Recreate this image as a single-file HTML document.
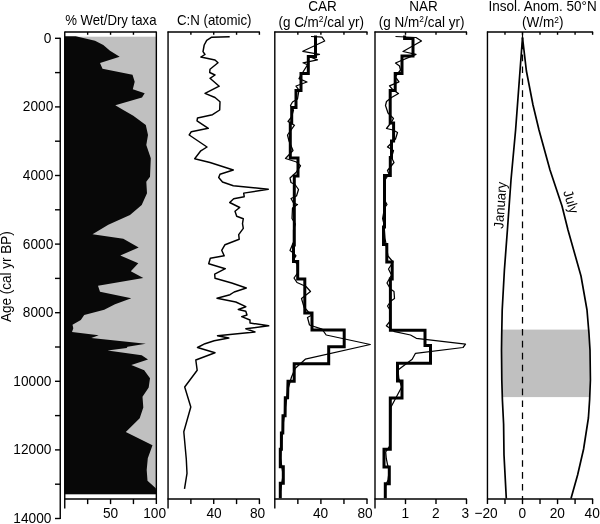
<!DOCTYPE html>
<html><head><meta charset="utf-8"><title>Figure</title>
<style>html,body{margin:0;padding:0;background:#fff}svg{display:block}text{font-family:"Liberation Sans",sans-serif;font-size:13.5px;fill:#000}text.t{font-size:13.7px}tspan.s{font-size:8.4px}</style></head>
<body>
<svg width="600" height="524" viewBox="0 0 600 524">
<rect width="600" height="524" fill="#fff"/>
<line x1="60.25" y1="37.80" x2="60.25" y2="519.00" stroke="#000" stroke-width="1.40"/>
<line x1="55.00" y1="38.30" x2="60.25" y2="38.30" stroke="#000" stroke-width="1.40"/>
<line x1="55.00" y1="72.60" x2="60.25" y2="72.60" stroke="#000" stroke-width="1.40"/>
<line x1="55.00" y1="106.90" x2="60.25" y2="106.90" stroke="#000" stroke-width="1.40"/>
<line x1="55.00" y1="141.20" x2="60.25" y2="141.20" stroke="#000" stroke-width="1.40"/>
<line x1="55.00" y1="175.50" x2="60.25" y2="175.50" stroke="#000" stroke-width="1.40"/>
<line x1="55.00" y1="209.80" x2="60.25" y2="209.80" stroke="#000" stroke-width="1.40"/>
<line x1="55.00" y1="244.10" x2="60.25" y2="244.10" stroke="#000" stroke-width="1.40"/>
<line x1="55.00" y1="278.40" x2="60.25" y2="278.40" stroke="#000" stroke-width="1.40"/>
<line x1="55.00" y1="312.70" x2="60.25" y2="312.70" stroke="#000" stroke-width="1.40"/>
<line x1="55.00" y1="347.00" x2="60.25" y2="347.00" stroke="#000" stroke-width="1.40"/>
<line x1="55.00" y1="381.30" x2="60.25" y2="381.30" stroke="#000" stroke-width="1.40"/>
<line x1="55.00" y1="415.60" x2="60.25" y2="415.60" stroke="#000" stroke-width="1.40"/>
<line x1="55.00" y1="449.90" x2="60.25" y2="449.90" stroke="#000" stroke-width="1.40"/>
<line x1="55.00" y1="484.20" x2="60.25" y2="484.20" stroke="#000" stroke-width="1.40"/>
<line x1="55.00" y1="518.50" x2="60.25" y2="518.50" stroke="#000" stroke-width="1.40"/>
<text class="t" transform="translate(51.40,42.70) scale(1,1.07)" text-anchor="end">0</text>
<text class="t" transform="translate(53.30,111.30) scale(1,1.07)" text-anchor="end">2000</text>
<text class="t" transform="translate(53.30,179.90) scale(1,1.07)" text-anchor="end">4000</text>
<text class="t" transform="translate(53.30,248.50) scale(1,1.07)" text-anchor="end">6000</text>
<text class="t" transform="translate(53.30,317.10) scale(1,1.07)" text-anchor="end">8000</text>
<text class="t" transform="translate(51.40,385.70) scale(1,1.07)" text-anchor="end">10000</text>
<text class="t" transform="translate(51.40,454.30) scale(1,1.07)" text-anchor="end">12000</text>
<text class="t" transform="translate(51.40,522.90) scale(1,1.07)" text-anchor="end">14000</text>
<text transform="translate(11.3,276.6) rotate(-90) scale(1,1.05)" text-anchor="middle">Age (cal yr BP)</text>
<rect x="64.75" y="36.7" width="91.60" height="457.60" fill="#c0c0c0"/>
<polygon points="64.8,494.3 64.8,36.3 75.8,36.3 95.0,40.8 103.3,45.0 110.0,50.8 119.7,56.7 100.0,63.0 102.5,68.7 132.5,74.7 134.7,81.7 132.8,89.2 144.7,93.3 142.0,97.5 115.3,105.3 123.3,110.0 133.3,115.8 145.8,125.0 148.0,135.0 146.3,145.0 150.8,158.3 150.0,176.7 146.3,181.7 147.0,193.3 141.7,205.0 130.0,215.0 108.3,224.7 92.5,234.2 123.3,238.7 138.7,247.5 120.3,255.5 138.3,263.3 130.8,271.3 143.3,278.0 98.0,285.8 100.0,291.7 131.3,298.3 115.0,304.2 104.2,309.7 84.2,315.0 80.8,320.0 72.5,324.7 73.3,328.3 72.0,332.0 98.7,335.3 91.3,338.0 145.8,343.7 127.5,346.7 126.7,348.0 107.5,350.6 141.7,355.3 148.0,359.5 131.3,365.0 144.2,370.3 150.0,378.3 148.7,387.5 142.5,396.7 143.3,407.5 139.7,418.3 125.8,432.0 152.5,445.3 147.8,458.3 146.7,470.0 147.5,480.8 155.8,488.3 156.3,494.3" fill="#080808"/>
<line x1="64.75" y1="31.50" x2="64.75" y2="508.60" stroke="#000" stroke-width="1.40"/>
<line x1="156.35" y1="31.50" x2="156.35" y2="504.10" stroke="#000" stroke-width="1.40"/>
<line x1="64.75" y1="32.00" x2="156.35" y2="32.00" stroke="#000" stroke-width="1.40"/>
<line x1="64.75" y1="499.00" x2="156.35" y2="499.00" stroke="#000" stroke-width="1.40"/>
<line x1="87.65" y1="32.00" x2="87.65" y2="34.80" stroke="#000" stroke-width="1.40"/>
<line x1="87.65" y1="499.00" x2="87.65" y2="504.10" stroke="#000" stroke-width="1.40"/>
<line x1="110.55" y1="32.00" x2="110.55" y2="34.80" stroke="#000" stroke-width="1.40"/>
<line x1="110.55" y1="499.00" x2="110.55" y2="504.10" stroke="#000" stroke-width="1.40"/>
<line x1="133.45" y1="32.00" x2="133.45" y2="34.80" stroke="#000" stroke-width="1.40"/>
<line x1="133.45" y1="499.00" x2="133.45" y2="504.10" stroke="#000" stroke-width="1.40"/>
<text class="t" transform="translate(110.60,517.70) scale(1,1.07)" text-anchor="middle">50</text>
<text class="t" transform="translate(154.60,517.70) scale(1,1.07)" text-anchor="middle">100</text>
<text transform="translate(110.80,24.80) scale(1,1.05)" text-anchor="middle" style="font-size:13.2px">% Wet/Dry taxa</text>
<line x1="168.05" y1="31.50" x2="168.05" y2="508.60" stroke="#000" stroke-width="1.40"/>
<line x1="167.55" y1="32.00" x2="259.90" y2="32.00" stroke="#000" stroke-width="1.40"/>
<line x1="167.55" y1="499.00" x2="259.90" y2="499.00" stroke="#000" stroke-width="1.40"/>
<line x1="190.89" y1="32.00" x2="190.89" y2="34.80" stroke="#000" stroke-width="1.40"/>
<line x1="190.89" y1="499.00" x2="190.89" y2="504.10" stroke="#000" stroke-width="1.40"/>
<line x1="213.72" y1="32.00" x2="213.72" y2="34.80" stroke="#000" stroke-width="1.40"/>
<line x1="213.72" y1="499.00" x2="213.72" y2="504.10" stroke="#000" stroke-width="1.40"/>
<line x1="236.56" y1="32.00" x2="236.56" y2="34.80" stroke="#000" stroke-width="1.40"/>
<line x1="236.56" y1="499.00" x2="236.56" y2="504.10" stroke="#000" stroke-width="1.40"/>
<line x1="259.40" y1="32.00" x2="259.40" y2="34.80" stroke="#000" stroke-width="1.40"/>
<line x1="259.40" y1="499.00" x2="259.40" y2="504.10" stroke="#000" stroke-width="1.40"/>
<text class="t" transform="translate(214.00,517.70) scale(1,1.07)" text-anchor="middle">40</text>
<text class="t" transform="translate(257.60,517.70) scale(1,1.07)" text-anchor="middle">80</text>
<text transform="translate(214.20,24.80) scale(1,1.05)" text-anchor="middle" style="font-size:13.3px">C:N (atomic)</text>
<polyline points="229.7,36.7 211.7,37.2 206.7,40.3 204.2,45.0 203.0,51.7 205.0,54.5 200.8,57.0 215.0,60.0 218.0,62.8 210.0,69.2 209.7,72.5 215.0,75.0 210.0,78.3 219.2,86.2 205.0,93.3 215.0,97.5 220.0,101.7 219.7,110.0 212.5,114.7 197.5,118.0 197.0,120.8 208.3,128.3 191.3,131.7 189.2,135.0 207.0,147.0 200.8,150.8 194.7,158.7 210.0,162.5 233.3,170.0 220.0,174.2 218.7,177.5 222.5,182.0 233.3,185.8 268.3,189.2 243.7,193.1 244.2,196.7 233.7,198.7 229.7,202.5 239.7,207.5 235.0,211.3 236.7,216.3 243.3,218.7 242.5,223.7 243.3,228.3 238.7,234.7 239.2,239.2 225.0,244.7 221.7,250.3 224.2,255.8 210.3,258.3 208.7,263.7 225.3,268.7 214.7,274.2 215.0,278.3 231.7,283.0 246.3,288.0 234.2,292.0 230.0,294.7 217.0,298.3 235.8,302.0 245.8,306.7 238.3,309.5 245.8,311.3 247.0,315.0 241.7,316.7 250.0,320.0 250.0,323.0 268.7,325.8 245.8,328.7 255.0,332.0 217.5,335.8 228.8,338.0 214.2,340.8 205.0,343.7 197.5,347.5 215.0,352.8 195.8,360.0 197.2,370.3 184.7,387.0 190.8,407.0 183.8,431.7 186.3,459.2 187.0,473.3 184.5,488.8" fill="none" stroke="#000" stroke-width="1.45" stroke-linejoin="round"/>
<line x1="274.80" y1="31.50" x2="274.80" y2="508.60" stroke="#000" stroke-width="1.40"/>
<line x1="274.30" y1="32.00" x2="367.50" y2="32.00" stroke="#000" stroke-width="1.40"/>
<line x1="274.30" y1="499.00" x2="367.50" y2="499.00" stroke="#000" stroke-width="1.40"/>
<line x1="297.85" y1="32.00" x2="297.85" y2="34.80" stroke="#000" stroke-width="1.40"/>
<line x1="297.85" y1="499.00" x2="297.85" y2="504.10" stroke="#000" stroke-width="1.40"/>
<line x1="320.90" y1="32.00" x2="320.90" y2="34.80" stroke="#000" stroke-width="1.40"/>
<line x1="320.90" y1="499.00" x2="320.90" y2="504.10" stroke="#000" stroke-width="1.40"/>
<line x1="343.95" y1="32.00" x2="343.95" y2="34.80" stroke="#000" stroke-width="1.40"/>
<line x1="343.95" y1="499.00" x2="343.95" y2="504.10" stroke="#000" stroke-width="1.40"/>
<line x1="367.00" y1="32.00" x2="367.00" y2="34.80" stroke="#000" stroke-width="1.40"/>
<line x1="367.00" y1="499.00" x2="367.00" y2="504.10" stroke="#000" stroke-width="1.40"/>
<text class="t" transform="translate(320.50,517.70) scale(1,1.07)" text-anchor="middle">40</text>
<text class="t" transform="translate(365.00,517.70) scale(1,1.07)" text-anchor="middle">80</text>
<text transform="translate(322.60,10.50) scale(1,1.05)" text-anchor="middle">CAR</text>
<text transform="translate(321.20,26.80) scale(1,1.05)" text-anchor="middle">(g C/m<tspan class="s" dy="-4.2">2</tspan><tspan dy="4.2">/cal yr)</tspan></text>
<polyline points="315.5,35.5 315.5,56.5 308.3,56.5 308.3,73.5 301.0,73.5 301.0,90.5 296.0,90.5 296.0,107.5 291.7,107.5 291.7,123.0 290.3,123.0 290.3,158.0 298.0,158.0 298.0,176.0 294.3,176.0 294.3,245.0 293.5,245.0 293.5,261.5 297.7,261.5 297.7,279.0 304.8,279.0 304.8,313.0 312.0,313.0 312.0,330.0 344.2,330.0 344.2,346.7 328.7,346.7 328.7,363.7 294.2,363.7 294.2,381.2 288.0,381.2 287.6,397.7 285.3,397.7 285.1,415.7 283.0,415.7 282.8,433.0 281.4,433.0 281.4,449.3 280.3,449.3 280.3,466.7 283.3,466.7 283.3,483.3 280.3,483.3 280.3,498.3" fill="none" stroke="#000" stroke-width="3.00" stroke-linejoin="miter"/>
<polyline points="311.0,36.5 319.0,36.8 322.0,37.2 324.7,41.0 302.8,51.3 319.5,54.3 309.0,56.5 317.5,59.8 303.0,62.8 307.5,64.8 303.0,72.0 299.0,78.6 307.0,82.0 296.0,86.0 299.0,90.0 297.5,99.0 292.5,102.0 290.5,105.5 293.5,110.0 291.5,117.0 288.0,121.5 294.5,125.2 287.5,135.0 289.0,141.0 293.0,150.5 285.5,158.5 296.5,162.0 300.5,165.8 296.0,172.5 290.0,178.0 291.0,182.5 295.0,184.5 298.5,189.5 296.5,196.0 291.0,198.5 293.5,203.0 297.5,204.5 292.5,208.0 292.0,218.5 295.3,224.0 293.5,230.0 293.5,242.0 290.0,250.5 293.5,253.0 296.0,255.8 293.5,260.0 297.2,264.0 297.6,273.0 294.0,278.0 297.0,282.5 306.0,286.5 310.5,291.5 301.5,298.5 304.0,307.0 308.0,311.5 312.0,315.0 307.5,317.5 309.5,325.0 322.0,329.2 326.2,335.0 370.3,344.5 305.3,359.2 295.3,368.3 291.5,377.0 288.3,388.0 285.5,406.5 283.2,424.0 281.6,441.0 280.5,458.0 283.1,475.0 280.5,491.0" fill="none" stroke="#000" stroke-width="1.25" stroke-linejoin="round"/>
<line x1="375.00" y1="31.50" x2="375.00" y2="508.60" stroke="#000" stroke-width="1.40"/>
<line x1="374.50" y1="32.00" x2="467.00" y2="32.00" stroke="#000" stroke-width="1.40"/>
<line x1="374.50" y1="499.00" x2="467.00" y2="499.00" stroke="#000" stroke-width="1.40"/>
<line x1="405.50" y1="32.00" x2="405.50" y2="34.80" stroke="#000" stroke-width="1.40"/>
<line x1="405.50" y1="499.00" x2="405.50" y2="504.10" stroke="#000" stroke-width="1.40"/>
<line x1="436.00" y1="32.00" x2="436.00" y2="34.80" stroke="#000" stroke-width="1.40"/>
<line x1="436.00" y1="499.00" x2="436.00" y2="504.10" stroke="#000" stroke-width="1.40"/>
<line x1="466.50" y1="32.00" x2="466.50" y2="34.80" stroke="#000" stroke-width="1.40"/>
<line x1="466.50" y1="499.00" x2="466.50" y2="504.10" stroke="#000" stroke-width="1.40"/>
<text class="t" transform="translate(405.20,517.70) scale(1,1.07)" text-anchor="middle">1</text>
<text class="t" transform="translate(435.70,517.70) scale(1,1.07)" text-anchor="middle">2</text>
<text class="t" transform="translate(465.40,517.70) scale(1,1.07)" text-anchor="middle">3</text>
<text transform="translate(423.50,10.50) scale(1,1.05)" text-anchor="middle">NAR</text>
<text transform="translate(421.60,26.80) scale(1,1.05)" text-anchor="middle">(g N/m<tspan class="s" dy="-4.2">2</tspan><tspan dy="4.2">/cal yr)</tspan></text>
<polyline points="404.6,35.5 404.6,38.5 413.0,38.5 413.0,56.0 402.0,56.0 402.0,73.5 395.2,73.5 395.2,90.5 390.2,90.5 390.2,123.0 393.6,123.0 393.6,141.0 391.5,141.0 391.5,157.5 390.3,157.5 390.3,175.5 384.5,175.5 384.5,227.0 383.5,227.0 383.5,244.5 386.8,244.5 386.8,262.0 392.2,262.0 392.2,279.0 390.4,279.0 390.4,330.3 425.0,330.3 425.0,345.5 430.5,345.5 430.5,363.3 397.5,363.3 397.5,381.0 402.0,381.0 402.0,398.0 390.3,398.0 390.3,449.3 384.0,449.3 384.0,467.0 389.3,467.0 389.3,483.7 385.3,483.7 385.3,498.3" fill="none" stroke="#000" stroke-width="3.00" stroke-linejoin="miter"/>
<polyline points="395.5,36.5 416.0,37.5 421.5,41.0 403.0,51.5 416.0,54.3 395.5,63.0 399.5,66.0 400.5,70.0 395.0,77.0 396.5,78.5 399.0,81.8 389.5,85.8 393.0,90.0 398.5,93.5 391.5,97.5 386.5,101.5 385.5,105.5 388.0,113.0 393.5,118.5 391.5,122.0 386.5,128.5 393.0,130.0 397.5,132.5 395.5,139.0 387.5,147.0 393.5,150.5 391.5,157.5 394.0,162.5 387.5,170.5 389.0,174.0 385.0,180.0 384.5,200.0 387.0,204.5 384.5,208.0 382.6,218.5 384.0,224.0 385.0,238.0 388.0,256.0 393.0,262.0 388.5,269.0 391.5,275.0 387.0,283.0 390.5,289.0 394.0,291.5 394.5,298.5 391.0,301.0 387.5,306.0 390.0,310.0 390.2,321.0 386.3,325.8 394.7,331.7 410.5,335.0 416.3,338.3 465.5,344.2 463.0,347.5 415.5,353.3 412.2,359.2 398.0,370.0 398.8,378.3 401.7,387.0 391.0,407.0 390.3,445.0 385.7,452.0 386.3,458.7 387.7,465.3 389.3,470.0 388.0,480.0 385.5,486.0" fill="none" stroke="#000" stroke-width="1.25" stroke-linejoin="round"/>
<rect x="502" y="329.6" width="87.6" height="67.5" fill="#c0c0c0"/>
<line x1="487.45" y1="31.50" x2="487.45" y2="504.10" stroke="#000" stroke-width="1.40"/>
<line x1="486.95" y1="32.00" x2="593.10" y2="32.00" stroke="#000" stroke-width="1.40"/>
<line x1="486.95" y1="499.00" x2="593.10" y2="499.00" stroke="#000" stroke-width="1.40"/>
<line x1="504.98" y1="32.00" x2="504.98" y2="34.80" stroke="#000" stroke-width="1.40"/>
<line x1="504.98" y1="499.00" x2="504.98" y2="504.10" stroke="#000" stroke-width="1.40"/>
<line x1="522.50" y1="32.00" x2="522.50" y2="34.80" stroke="#000" stroke-width="1.40"/>
<line x1="522.50" y1="499.00" x2="522.50" y2="504.10" stroke="#000" stroke-width="1.40"/>
<line x1="540.02" y1="32.00" x2="540.02" y2="34.80" stroke="#000" stroke-width="1.40"/>
<line x1="540.02" y1="499.00" x2="540.02" y2="504.10" stroke="#000" stroke-width="1.40"/>
<line x1="557.55" y1="32.00" x2="557.55" y2="34.80" stroke="#000" stroke-width="1.40"/>
<line x1="557.55" y1="499.00" x2="557.55" y2="504.10" stroke="#000" stroke-width="1.40"/>
<line x1="575.08" y1="32.00" x2="575.08" y2="34.80" stroke="#000" stroke-width="1.40"/>
<line x1="575.08" y1="499.00" x2="575.08" y2="504.10" stroke="#000" stroke-width="1.40"/>
<line x1="592.60" y1="32.00" x2="592.60" y2="34.80" stroke="#000" stroke-width="1.40"/>
<line x1="592.60" y1="499.00" x2="592.60" y2="504.10" stroke="#000" stroke-width="1.40"/>
<text class="t" transform="translate(522.40,517.70) scale(1,1.07)" text-anchor="middle">0</text>
<text class="t" transform="translate(557.30,517.70) scale(1,1.07)" text-anchor="middle">20</text>
<text class="t" transform="translate(592.20,517.70) scale(1,1.07)" text-anchor="middle">40</text>
<text class="t" transform="translate(486.10,517.70) scale(1,1.07)" text-anchor="middle">−20</text>
<text transform="translate(542.60,11.40) scale(1,1.05)" text-anchor="middle">Insol. Anom. 50°N</text>
<text transform="translate(542.80,27.10) scale(1,1.05)" text-anchor="middle">(W/m<tspan class="s" dy="-4.2">2</tspan><tspan dy="4.2">)</tspan></text>
<line x1="522.50" y1="38.50" x2="522.50" y2="499.00" stroke="#000" stroke-width="1.25" stroke-dasharray="6.6 5.33" stroke-dashoffset="-4.1"/>
<polyline points="522.5,37.5 515.6,130.0 511.0,180.0 507.4,230.0 504.4,270.0 502.2,310.0 501.7,335.0 501.5,350.0 501.8,380.0 502.4,400.0 503.6,424.0 504.0,455.0 506.3,498.5" fill="none" stroke="#000" stroke-width="1.70" stroke-linejoin="round"/>
<polyline points="522.5,37.5 526.4,71.0 533.0,105.0 539.0,130.0 550.0,170.0 562.0,206.0 568.0,230.0 581.0,276.0 587.0,310.0 589.0,334.0 590.0,350.0 590.4,380.0 589.6,400.0 588.4,418.0 583.6,449.0 577.6,475.0 571.0,498.5" fill="none" stroke="#000" stroke-width="1.70" stroke-linejoin="round"/>
<line x1="522.50" y1="32.00" x2="522.50" y2="39.50" stroke="#000" stroke-width="1.20"/>
<text transform="translate(504.8,205.5) rotate(-86) scale(1,1.05)" text-anchor="middle" style="font-size:13.2px">January</text>
<text transform="translate(566.5,203) rotate(73) scale(1,1.05)" text-anchor="middle" style="font-size:13.2px">July</text>
</svg>
</body></html>
